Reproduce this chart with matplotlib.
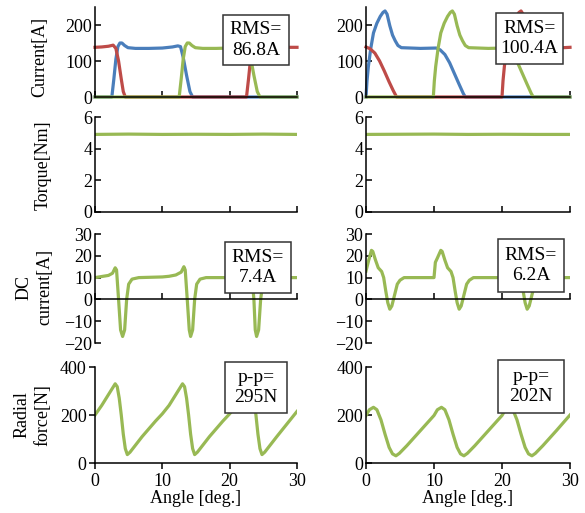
import numpy as np
import matplotlib
matplotlib.use("Agg")
import matplotlib.pyplot as plt
from matplotlib.patches import Rectangle

plt.rcParams['font.family'] = ['Liberation Serif', 'DejaVu Serif']
plt.rcParams['font.size'] = 13

BLUE = '#4a7ebb'
RED = '#be4b48'
GREEN = '#98b954'

# ---- phase current, left (Current[A])
blue_l_x = [0, 2.5, 2.8, 3.1, 3.4, 3.7, 4.0, 4.4, 4.9, 6, 8, 10, 11.5, 12.3, 12.7, 13.1, 13.6, 14.1, 14.5, 30]
blue_l_y = [0, 0, 50, 105, 140, 150, 150, 143, 137, 135, 135, 136, 139, 142, 140, 110, 60, 15, 0, 0]
red_l_x = [0, 1.0, 2.0, 2.7, 3.1, 3.5, 3.9, 4.2, 4.5, 22.5, 22.8, 23.1, 23.4, 23.8, 24.5, 30]
red_l_y = [138, 139, 141, 144, 135, 100, 50, 15, 0, 0, 50, 105, 138, 140, 138, 138]
green_l_x = [0, 12.5, 12.8, 13.1, 13.4, 13.7, 14.0, 14.4, 14.9, 16, 18, 20, 22.3, 22.7, 23.1, 23.6, 24.1, 24.5, 30]
green_l_y = [0, 0, 50, 105, 140, 150, 150, 143, 137, 135, 135, 136, 139, 140, 110, 60, 15, 0, 0]

# ---- phase current, right
blue_r_x = [0, 0.15, 0.35, 0.7, 1.1, 1.6, 2.1, 2.5, 2.8, 3.1, 3.5, 3.9, 4.3, 4.7, 5.2, 8, 10.3,
            10.9, 11.6, 12.3, 13.0, 13.7, 14.3, 14.6, 30]
blue_r_y = [0, 45, 85, 135, 178, 205, 224, 235, 239, 230, 198, 172, 156, 143, 137, 135, 136,
            131, 118, 95, 65, 35, 10, 0, 0]
red_r_x = [0, 0.6, 1.3, 2.0, 2.7, 3.4, 4.0, 4.5, 20.0, 20.15, 20.35, 20.7, 21.1, 21.6, 22.1, 22.5,
           22.8, 23.1, 23.5, 23.9, 24.3, 24.7, 25.2, 28, 30]
red_r_y = [139, 134, 122, 100, 72, 42, 18, 0, 0, 45, 85, 135, 178, 205, 224, 235,
           239, 230, 198, 172, 156, 143, 137, 136, 138]
green_r_x = [0, 9.9, 10.05, 10.25, 10.6, 11.0, 11.5, 12.0, 12.4, 12.7, 13.0, 13.4, 13.8, 14.2, 14.6,
             15.1, 18, 20.3, 20.9, 21.6, 22.3, 23.0, 23.7, 24.3, 24.6, 30]
green_r_y = [0, 0, 45, 85, 135, 178, 205, 224, 235, 239, 230, 198, 172, 156, 143,
             137, 135, 136, 131, 118, 95, 65, 35, 10, 0, 0]

# ---- torque [Nm]
torque_x = [0, 5, 10, 15, 20, 25, 30]
torque_l_y = [4.9, 4.92, 4.9, 4.91, 4.9, 4.92, 4.9]
torque_r_y = [4.9, 4.91, 4.92, 4.9, 4.91, 4.9, 4.9]

# ---- DC current [A]
dc_l_x = [0, 1.0, 2.0, 2.6, 3.0, 3.2, 3.5, 3.8, 4.1, 4.4, 4.7, 5.0, 5.5, 6.5, 10,
          11.0, 12.0, 12.8, 13.2, 13.4, 13.7, 14.0, 14.2, 14.5, 14.8, 15.1, 15.6, 16.5, 20,
          21.0, 22.0, 22.8, 23.1, 23.3, 23.6, 23.8, 24.0, 24.3, 24.6, 24.9, 25.4, 26.3, 30]
dc_l_y = [10, 10.5, 11, 12, 14.5, 13.5, 0, -14, -17, -14, 0, 7, 9.3, 10, 10.3,
          10.6, 11.2, 12.5, 15, 13.5, 0, -14, -17, -14, 0, 7, 9.3, 10, 10,
          10.2, 10.4, 11, 13, 11, 0, -14, -17, -14, 0, 7, 9.3, 10, 10]
dc_r_x = [0, 0.4, 0.8, 1.0, 1.4, 1.8, 2.3, 2.6, 2.9, 3.2, 3.5, 3.8, 4.2, 4.6, 5.0, 5.6, 10,
          10.2, 10.5, 11.0, 11.2, 11.6, 12.0, 12.5, 12.8, 13.1, 13.4, 13.7, 14.0, 14.4, 14.8, 15.2, 15.8, 20,
          20.2, 20.5, 21.0, 21.2, 21.6, 22.0, 22.5, 22.8, 23.1, 23.4, 23.7, 24.0, 24.4, 24.8, 25.2, 25.8, 30]
dc_r_y = [13, 18, 22.5, 22, 18, 14.5, 12.8, 10, 4, -1.5, -4.5, -3, 2, 7, 8.8, 10, 10,
          17, 19, 22.5, 22, 18, 14.5, 12.8, 10, 4, -1.5, -4.5, -3, 2, 7, 8.8, 10, 10,
          15, 17, 20, 19, 15, 13, 12, 9, 4, -1.5, -4.5, -3, 2, 7, 8.8, 10, 10]

# ---- radial force [N]
rf_l_x = [0, 1.0, 2.0, 2.6, 3.0, 3.3, 3.6, 3.9, 4.2, 4.5, 4.8, 5.2, 7, 9, 10, 11, 12, 12.6, 13.0, 13.3,
          13.6, 13.9, 14.2, 14.5, 14.8, 15.2, 17, 19, 20, 21, 22, 22.6, 23.0, 23.3, 23.6, 23.9, 24.2,
          24.5, 24.8, 25.2, 27, 30]
rf_l_y = [200, 240, 285, 312, 330, 318, 270, 200, 120, 60, 35, 45, 110, 175, 205, 240, 285, 312, 330, 318,
          270, 200, 120, 60, 35, 45, 110, 175, 205, 240, 285, 312, 330, 318, 270, 200, 120,
          60, 35, 45, 110, 215]
rf_r_x = [0, 0.5, 1.1, 1.6, 2.2, 2.8, 3.4, 3.9, 4.4, 4.9, 6, 8, 10, 10.5, 11.1, 11.6, 12.2, 12.8,
          13.4, 13.9, 14.4, 14.9, 16, 18, 20, 20.5, 21.1, 21.6, 22.2, 22.8, 23.4, 23.9, 24.4, 24.9,
          26, 28, 30]
rf_r_y = [198, 222, 232, 222, 180, 120, 65, 38, 30, 40, 72, 135, 198, 222, 232, 222, 180, 120,
          65, 38, 30, 40, 72, 135, 198, 222, 232, 222, 180, 120, 65, 38, 30, 40,
          72, 135, 200]

W, H = 585, 513
fig = plt.figure(figsize=(W / 100, H / 100), dpi=100)

col_px = [(95, 297), (366, 570)]
row_px = [(7, 97), (117, 212), (234, 343), (367, 463)]


def make_ax(r, c):
    x0, x1 = col_px[c]
    y0, y1 = row_px[r]
    return fig.add_axes([x0 / W, 1 - y1 / H, (x1 - x0) / W, (y1 - y0) / H])


def px_box(ax, x0, y0, x1, y1, txt):
    rect = Rectangle((x0 / W, 1 - y1 / H), (x1 - x0) / W, (y1 - y0) / H, transform=fig.transFigure,
                     facecolor='white', edgecolor='#333333', lw=1.1, zorder=5, clip_on=False)
    ax.add_patch(rect)
    ax.text((x0 + x1) / 2 / W, 1 - (y0 + y1) / 2 / H, txt, transform=fig.transFigure,
            ha='center', va='center', fontsize=14, linespacing=1.25, zorder=6)


def style(ax, ylim, yticks, ydir='in', xdir='in', bottom_labels=False):
    ax.set_xlim(0, 30)
    ax.set_ylim(*ylim)
    ax.set_yticks(yticks)
    ax.set_xticks([0, 10, 20, 30])
    for s in ['top', 'right']:
        ax.spines[s].set_visible(False)
    for s in ['left', 'bottom']:
        ax.spines[s].set_linewidth(1.1)
    ax.tick_params(axis='y', direction=ydir, length=4, width=1.1, pad=2)
    ax.tick_params(axis='x', direction=xdir, length=4, width=1.1, labelbottom=bottom_labels, pad=3)
    ax.patch.set_alpha(0)


lw = 2.3
axes = [[make_ax(r, c) for c in range(2)] for r in range(4)]

# row 1 currents
ax = axes[0][0]
ax.plot(blue_l_x, blue_l_y, color=BLUE, lw=lw, clip_on=False)
ax.plot(red_l_x, red_l_y, color=RED, lw=lw, clip_on=False)
ax.plot(green_l_x, green_l_y, color=GREEN, lw=lw, clip_on=False)
style(ax, (0, 250), [0, 100, 200])
ax = axes[0][1]
ax.plot(blue_r_x, blue_r_y, color=BLUE, lw=lw, clip_on=False)
ax.plot(red_r_x, red_r_y, color=RED, lw=lw, clip_on=False)
ax.plot(green_r_x, green_r_y, color=GREEN, lw=lw, clip_on=False)
style(ax, (0, 250), [0, 100, 200])

# row 2 torque
axes[1][0].plot(torque_x, torque_l_y, color=GREEN, lw=lw)
axes[1][1].plot(torque_x, torque_r_y, color=GREEN, lw=lw)
for ax in axes[1]:
    style(ax, (0, 6), [0, 2, 4, 6])

# row 3 DC current
axes[2][0].plot(dc_l_x, dc_l_y, color=GREEN, lw=lw)
axes[2][1].plot(dc_r_x, dc_r_y, color=GREEN, lw=lw)
for ax in axes[2]:
    style(ax, (-20, 30), [-20, -10, 0, 10, 20, 30])
    ax.spines['bottom'].set_position(('data', 0))

# row 4 radial force
axes[3][0].plot(rf_l_x, rf_l_y, color=GREEN, lw=lw)
axes[3][1].plot(rf_r_x, rf_r_y, color=GREEN, lw=lw)
style(axes[3][0], (0, 400), [0, 200, 400], ydir='out', xdir='out', bottom_labels=True)
style(axes[3][1], (0, 400), [0, 200, 400], ydir='in', xdir='out', bottom_labels=True)
for ax in axes[3]:
    ax.set_xlabel('Angle [deg.]', labelpad=0)

# annotation boxes
px_box(axes[0][0], 223, 15, 289, 65, 'RMS=\n86.8A')
px_box(axes[0][1], 496, 13, 563, 64, 'RMS=\n100.4A')
px_box(axes[2][0], 225, 242, 291, 293, 'RMS=\n7.4A')
px_box(axes[2][1], 498, 239, 564, 292, 'RMS=\n6.2A')
px_box(axes[3][0], 225, 362, 287, 413, 'p-p=\n295N')
px_box(axes[3][1], 498, 360, 564, 413, 'p-p=\n202N')

# y labels
fig.text(40 / W, 1 - 57 / H, 'Current[A]', rotation=90, ha='center', va='center')
fig.text(43 / W, 1 - 165 / H, 'Torque[Nm]', rotation=90, ha='center', va='center')
fig.text(34 / W, 1 - 287 / H, 'DC\ncurrent[A]', rotation=90, ha='center', va='center',
         multialignment='center', linespacing=1.3)
fig.text(32 / W, 1 - 415 / H, 'Radial\nforce[N]', rotation=90, ha='center', va='center',
         multialignment='center', linespacing=1.3)

fig.savefig('out.png', dpi=100)
